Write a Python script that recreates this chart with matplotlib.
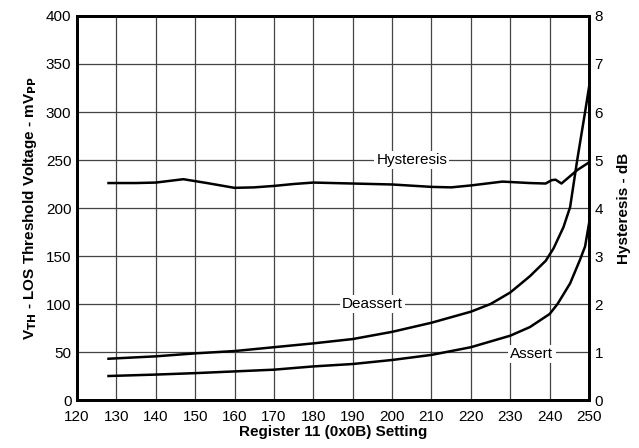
import matplotlib
matplotlib.use('Agg')
import matplotlib.pyplot as plt

plt.rcParams['font.family'] = ['Liberation Sans', 'DejaVu Sans']

# register setting vs threshold voltage (mVpp)
deassert_x = [128, 140, 150, 160, 170, 180, 190, 200, 210, 220, 225, 230, 235, 239, 241, 243.5, 245.2, 247, 249, 250]
deassert_y = [43, 45.5, 48.6, 51, 55, 59, 63.5, 71, 80.5, 92, 100, 112, 129, 145, 158, 180, 201, 250, 300, 326]

assert_x = [128, 140, 150, 160, 170, 180, 190, 200, 210, 220, 230, 235, 240, 242, 245.2, 247.7, 249, 250]
assert_y = [25, 26.5, 28, 29.8, 31.6, 35, 37.5, 41.7, 47, 55, 67, 76, 89.6, 100, 121.5, 146, 160, 184]

# hysteresis in dB (right axis)
hyst_x = [128, 135, 140, 147, 153, 160, 165, 170, 175, 180, 190, 200, 210, 215, 220, 228, 235, 239, 240.5, 241.5, 243, 245, 247, 250]
hyst_y = [4.52, 4.52, 4.53, 4.6, 4.52, 4.42, 4.43, 4.46, 4.5, 4.53, 4.51, 4.49, 4.44, 4.43, 4.47, 4.55, 4.52, 4.51, 4.58, 4.59, 4.51, 4.65, 4.79, 4.95]

fig = plt.figure(figsize=(6.39, 4.48), dpi=100)
ax = fig.add_axes([0.1205, 0.1071, 0.8013, 0.8572])
ax2 = ax.twinx()

ax.plot(deassert_x, deassert_y, color='black', lw=1.8, zorder=3)
ax.plot(assert_x, assert_y, color='black', lw=1.8, zorder=3)
ax2.plot(hyst_x, hyst_y, color='black', lw=1.8, zorder=3)

ax.set_xlim(120, 250)
ax.set_ylim(0, 400)
ax2.set_ylim(0, 8)
ax.set_xticks(range(120, 251, 10))
ax.set_yticks(range(0, 401, 50))
ax2.set_yticks(range(0, 9, 1))
ax.grid(True, color='#444444', lw=0.9)

for a in (ax, ax2):
    a.tick_params(length=0, labelsize=11, pad=4)
    for s in a.spines.values():
        s.set_linewidth(2)
ax.tick_params(axis='x', pad=7)

ax.set_xlabel('Register 11 (0x0B) Setting', fontsize=11, fontweight='bold', labelpad=1)
ax.set_ylabel(r'V$_{\mathbf{TH}}$ - LOS Threshold Voltage - mV$_{\mathbf{PP}}$', fontsize=11, fontweight='bold', labelpad=5)
ax2.set_ylabel('Hysteresis - dB', fontsize=11, fontweight='bold', labelpad=10)

box = dict(facecolor='white', edgecolor='none', pad=1.5)
ax.text(205, 250, 'Hysteresis', fontsize=11, ha='center', va='center', bbox=box, zorder=4)
ax.text(195, 100, 'Deassert', fontsize=11, ha='center', va='center', bbox=box, zorder=4)
ax.text(235.5, 48, 'Assert', fontsize=11, ha='center', va='center', bbox=box, zorder=4)

fig.savefig('out.png', dpi=100)
